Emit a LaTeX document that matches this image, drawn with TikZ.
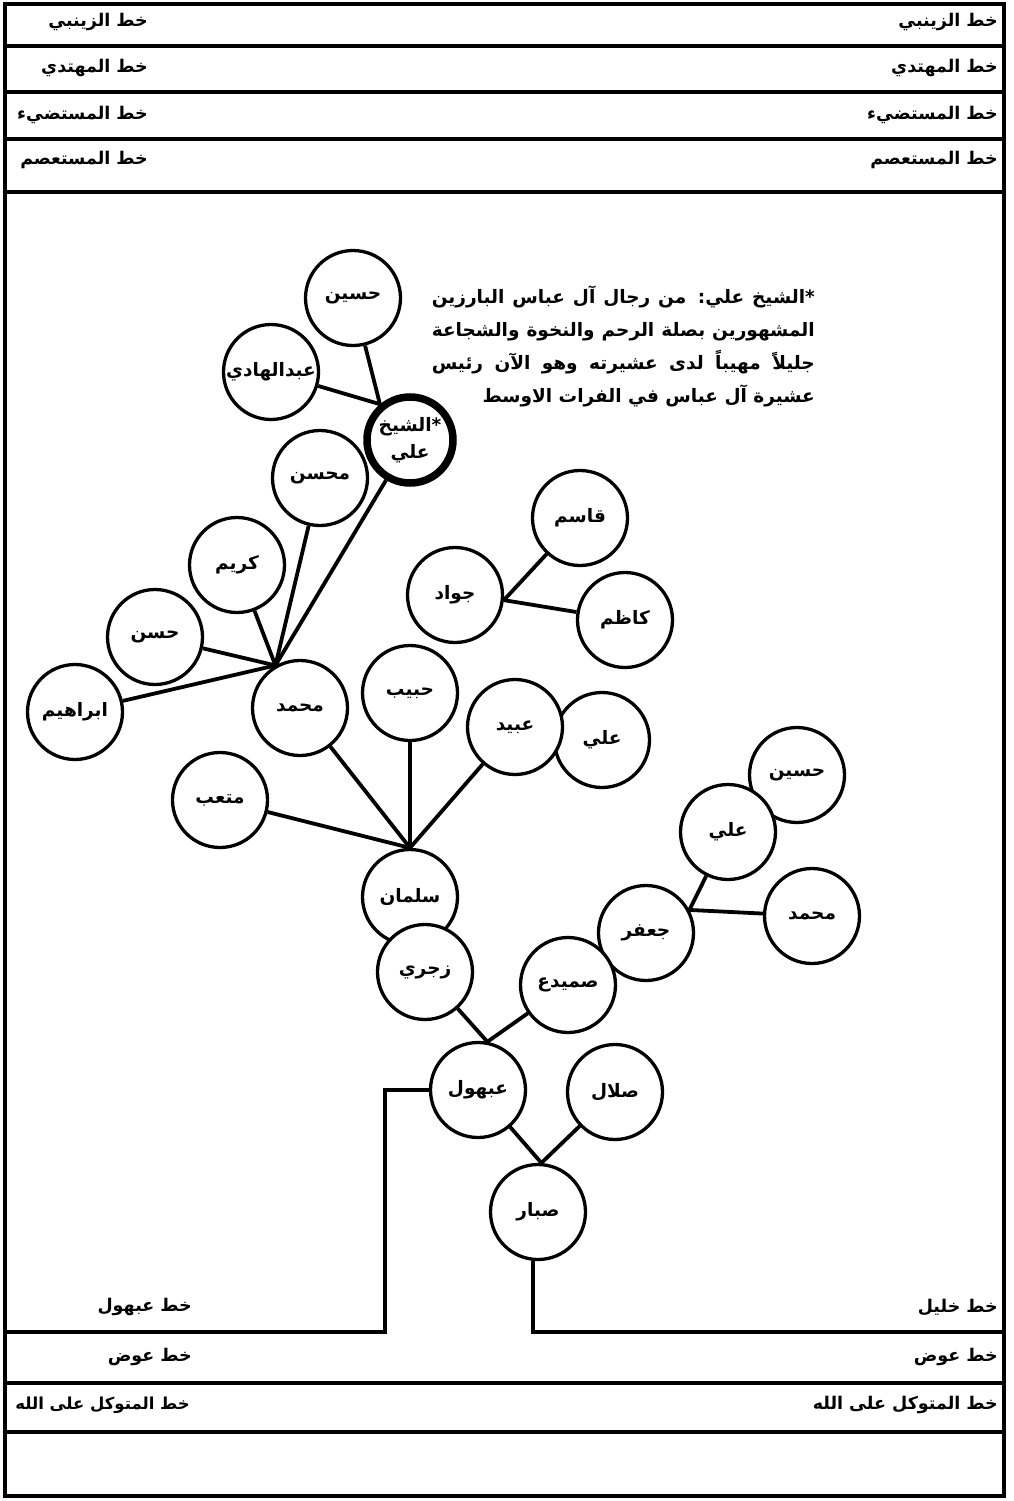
\documentclass[tikz,border=0pt]{standalone}
\usepackage{fontspec}
\newfontfamily\arabicfont[Script=Arabic]{DejaVu Sans}
\TeXXeTstate=1
\newcommand{\artext}[1]{\beginR #1\endR}
\newcommand{\namefont}{\arabicfont\bfseries\fontsize{18.5}{22}\selectfont}
\newcommand{\labfont}{\arabicfont\bfseries\fontsize{17.5}{20}\selectfont}
\newcommand{\smalllabfont}{\arabicfont\bfseries\fontsize{16.5}{20}\selectfont}
\newcommand{\notefont}{\arabicfont\bfseries\fontsize{18.5}{33}\selectfont}
\newcommand{\noteline}[1]{\makebox[383pt][s]{\beginR #1\endR}}
\begin{document}
\begin{tikzpicture}[x=1pt,y=-1pt,
  person/.style={circle,draw,line width=3.3pt,fill=white,minimum size=95pt,inner sep=0pt,font=\namefont},
  chief/.style={person,line width=7.5pt,minimum size=86pt},
  link/.style={line width=3.8pt},
  frame/.style={line width=3.6pt},
  lab/.style={font=\labfont,inner sep=0pt,anchor=east}]
\useasboundingbox (0,0) rectangle (1013,1501);
\fill[white] (0,0) rectangle (1013,1501);
% frame
\draw[frame] (5,4) rectangle (1004,1496);
\draw[frame] (5,46) -- (1004,46);
\draw[frame] (5,92) -- (1004,92);
\draw[frame] (5,139) -- (1004,139);
\draw[frame] (5,192) -- (1004,192);
\draw[frame] (5,1383) -- (1004,1383);
\draw[frame] (5,1432) -- (1004,1432);
% row labels
\node[lab] (r1) at (998,22) {\artext{خط الزينبي}};
\node[lab] (l1) at (148,22) {\artext{خط الزينبي}};
\node[lab] (r2) at (998,68) {\artext{خط المهتدي}};
\node[lab] (l2) at (148,68) {\artext{خط المهتدي}};
\node[lab] (r3) at (998,115) {\artext{خط المستضيء}};
\node[lab] (l3) at (148,115) {\artext{خط المستضيء}};
\node[lab] (r4) at (998,160) {\artext{خط المستعصم}};
\node[lab] (l4) at (148,160) {\artext{خط المستعصم}};
\node[lab] (r5) at (998,1307) {\artext{خط خليل}};
\node[lab] (l5) at (192,1307) {\artext{خط عبهول}};
\node[lab] (r6) at (998,1357) {\artext{خط عوض}};
\node[lab] (l6) at (192,1357) {\artext{خط عوض}};
\node[lab] (r7) at (998,1405) {\artext{خط المتوكل على الله}};
\node[lab,font=\smalllabfont] (l7) at (190,1405) {\artext{خط المتوكل على الله}};
% note
\node[anchor=north east,align=right,inner sep=0pt,font=\notefont] (note) at (815,286)
 {\noteline{*الشيخ علي: من رجال آل عباس البارزين}\\
  \noteline{المشهورين بصلة الرحم والنخوة والشجاعة}\\
  \noteline{جليلاً مهيباً لدى عشيرته وهو الآن رئيس}\\
  \artext{عشيرة آل عباس في الفرات الاوسط}};
% people
\node[person] (hussein1) at (353,298) {\artext{حسين}};
\node[person] (abdulhadi) at (271,372) {\artext{عبدالهادي}};
\node[chief,align=center] (shaikh) at (410,440) {\artext{*الشيخ}\\[5pt]\artext{علي}};
\node[person] (muhsin) at (320,478) {\artext{محسن}};
\node[person] (karim) at (237,565) {\artext{كريم}};
\node[person] (hasan) at (155,637) {\artext{حسن}};
\node[person] (ibrahim) at (75,712) {\artext{ابراهيم}};
\node[person] (muhammad1) at (300,708) {\artext{محمد}};
\node[person] (mutab) at (220,800) {\artext{متعب}};
\node[person] (jawad) at (455,595) {\artext{جواد}};
\node[person] (habib) at (410,693) {\artext{حبيب}};
\node[person] (qasim) at (580,518) {\artext{قاسم}};
\node[person] (kadhim) at (625,620) {\artext{كاظم}};
\node[person] (ali1) at (602,740) {\artext{علي}};
\node[person] (ubaid) at (515,727) {\artext{عبيد}};
\node[person] (salman) at (410,897) {\artext{سلمان}};
\node[person] (zajri) at (425,972) {\artext{زجري}};
\node[person] (jafar) at (646,933) {\artext{جعفر}};
\node[person] (sumaidi) at (568,985) {\artext{صميدع}};
\node[person] (hussein2) at (797,775) {\artext{حسين}};
\node[person] (ali2) at (728,832) {\artext{علي}};
\node[person] (muhammad2) at (812,916) {\artext{محمد}};
\node[person] (abhool) at (478,1090) {\artext{عبهول}};
\node[person] (salal) at (615,1092) {\artext{صلال}};
\node[person] (sabbar) at (538,1212) {\artext{صبار}};
% links
\draw[link] (hussein1) -- (shaikh.130);
\draw[link] (abdulhadi) -- (shaikh.130);
\draw[link] (shaikh) -- (muhammad1.120);
\draw[link] (muhsin) -- (muhammad1.120);
\draw[link] (karim) -- (muhammad1.120);
\draw[link] (hasan) -- (muhammad1.120);
\draw[link] (ibrahim) -- (muhammad1.120);
\draw[link] (muhammad1) -- (salman.90);
\draw[link] (mutab) -- (salman.90);
\draw[link] (habib) -- (salman.90);
\draw[link] (ubaid) -- (salman.90);
\draw[link] (qasim) -- (jawad.354);
\draw[link] (kadhim) -- (jawad.354);
\draw[link] (zajri) -- (abhool.79);
\draw[link] (sumaidi) -- (abhool.79);
\draw[link] (ali2) -- (jafar.28);
\draw[link] (muhammad2) -- (jafar.28);
\draw[link] (abhool) -- (sabbar.86);
\draw[link] (salal) -- (sabbar.86);
\coordinate (lturn) at (385,1090);
\coordinate (ldown) at (385,1332);
\coordinate (lend) at (5,1332);
\coordinate (rdown) at (533,1332);
\coordinate (rend) at (1004,1332);
\draw[frame] (abhool.west) -- (lturn) -- (ldown) -- (lend);
\draw[frame] (sabbar.south -| rdown) -- (rdown) -- (rend);
\end{tikzpicture}
\end{document}
